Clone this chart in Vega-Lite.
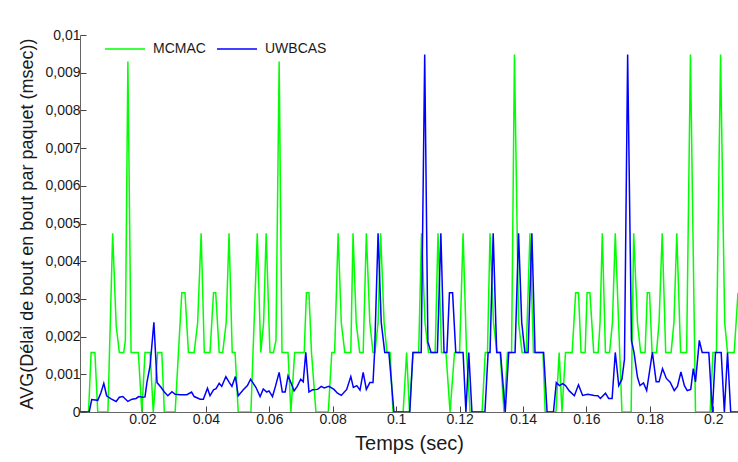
{
  "$schema": "https://vega.github.io/schema/vega-lite/v6.json",
  "autosize": {"type": "none"},
  "padding": {"left": 80, "top": 35, "right": 0, "bottom": 50},
  "width": 658,
  "height": 377,
  "background": "white",
  "config": {
    "view": {"stroke": null},
    "font": "Liberation Sans",
    "axis": {
      "grid": false,
      "domainColor": "#666666",
      "tickColor": "#444444",
      "labelColor": "#1a1a1a",
      "titleColor": "#1a1a1a",
      "labelFont": "Liberation Sans",
      "titleFont": "Liberation Sans",
      "labelFontSize": 14,
      "titleFontWeight": "normal",
      "tickSize": -6,
      "labelPadding": 6
    }
  },
  "data": {
    "values": [
      {"s":"MCMAC","t":0.0003,"v":0},{"s":"MCMAC","t":0.0030,"v":0},{"s":"MCMAC","t":0.0038,"v":0.00158},{"s":"MCMAC","t":0.0050,"v":0.00158},{"s":"MCMAC","t":0.0059,"v":0},{"s":"MCMAC","t":0.0091,"v":0},{"s":"MCMAC","t":0.0106,"v":0.00474},{"s":"MCMAC","t":0.0117,"v":0.0023},{"s":"MCMAC","t":0.0127,"v":0.00158},{"s":"MCMAC","t":0.0141,"v":0.00158},{"s":"MCMAC","t":0.0146,"v":0.0019},{"s":"MCMAC","t":0.0154,"v":0.0093},{"s":"MCMAC","t":0.0164,"v":0.00158},{"s":"MCMAC","t":0.0187,"v":0.00158},{"s":"MCMAC","t":0.0198,"v":0},{"s":"MCMAC","t":0.0208,"v":0.00158},{"s":"MCMAC","t":0.0224,"v":0.00158},{"s":"MCMAC","t":0.0234,"v":0},{"s":"MCMAC","t":0.0248,"v":0.00158},{"s":"MCMAC","t":0.0261,"v":0.00158},{"s":"MCMAC","t":0.0269,"v":0},{"s":"MCMAC","t":0.0303,"v":0},{"s":"MCMAC","t":0.0324,"v":0.00316},{"s":"MCMAC","t":0.0334,"v":0.00316},{"s":"MCMAC","t":0.0345,"v":0.00158},{"s":"MCMAC","t":0.0363,"v":0.00158},{"s":"MCMAC","t":0.0374,"v":0.00237},{"s":"MCMAC","t":0.0385,"v":0.00474},{"s":"MCMAC","t":0.0395,"v":0.00158},{"s":"MCMAC","t":0.0413,"v":0.00158},{"s":"MCMAC","t":0.0424,"v":0.00316},{"s":"MCMAC","t":0.0431,"v":0.00316},{"s":"MCMAC","t":0.0442,"v":0.00158},{"s":"MCMAC","t":0.0453,"v":0.00158},{"s":"MCMAC","t":0.0464,"v":0.00237},{"s":"MCMAC","t":0.0473,"v":0.00474},{"s":"MCMAC","t":0.0483,"v":0.00158},{"s":"MCMAC","t":0.0492,"v":0.00158},{"s":"MCMAC","t":0.0502,"v":0},{"s":"MCMAC","t":0.0542,"v":0},{"s":"MCMAC","t":0.0562,"v":0.00474},{"s":"MCMAC","t":0.0573,"v":0.00158},{"s":"MCMAC","t":0.0582,"v":0.00237},{"s":"MCMAC","t":0.0590,"v":0.00474},{"s":"MCMAC","t":0.0602,"v":0.00158},{"s":"MCMAC","t":0.0613,"v":0.00158},{"s":"MCMAC","t":0.0621,"v":0.0019},{"s":"MCMAC","t":0.0631,"v":0.0093},{"s":"MCMAC","t":0.0640,"v":0.00158},{"s":"MCMAC","t":0.0659,"v":0.00158},{"s":"MCMAC","t":0.0668,"v":0},{"s":"MCMAC","t":0.0680,"v":0.00158},{"s":"MCMAC","t":0.0710,"v":0.00158},{"s":"MCMAC","t":0.0717,"v":0.00316},{"s":"MCMAC","t":0.0725,"v":0.00316},{"s":"MCMAC","t":0.0733,"v":0.00158},{"s":"MCMAC","t":0.0747,"v":0},{"s":"MCMAC","t":0.0786,"v":0},{"s":"MCMAC","t":0.0797,"v":0.00158},{"s":"MCMAC","t":0.0806,"v":0.00158},{"s":"MCMAC","t":0.0817,"v":0.00474},{"s":"MCMAC","t":0.0827,"v":0.00237},{"s":"MCMAC","t":0.0838,"v":0.00158},{"s":"MCMAC","t":0.0857,"v":0.00158},{"s":"MCMAC","t":0.0864,"v":0.00474},{"s":"MCMAC","t":0.0874,"v":0.00237},{"s":"MCMAC","t":0.0885,"v":0.00158},{"s":"MCMAC","t":0.0896,"v":0.00158},{"s":"MCMAC","t":0.0906,"v":0.00474},{"s":"MCMAC","t":0.0917,"v":0.00237},{"s":"MCMAC","t":0.0927,"v":0.00158},{"s":"MCMAC","t":0.0933,"v":0.00158},{"s":"MCMAC","t":0.0943,"v":0.00237},{"s":"MCMAC","t":0.0951,"v":0.00474},{"s":"MCMAC","t":0.0962,"v":0.00237},{"s":"MCMAC","t":0.0971,"v":0.00158},{"s":"MCMAC","t":0.0981,"v":0.00158},{"s":"MCMAC","t":0.0990,"v":0},{"s":"MCMAC","t":0.1022,"v":0},{"s":"MCMAC","t":0.1033,"v":0.00158},{"s":"MCMAC","t":0.1042,"v":0},{"s":"MCMAC","t":0.1053,"v":0.00158},{"s":"MCMAC","t":0.1071,"v":0.00158},{"s":"MCMAC","t":0.1080,"v":0.00474},{"s":"MCMAC","t":0.1091,"v":0.00237},{"s":"MCMAC","t":0.1102,"v":0.00158},{"s":"MCMAC","t":0.1123,"v":0.00158},{"s":"MCMAC","t":0.1132,"v":0.00474},{"s":"MCMAC","t":0.1143,"v":0.00158},{"s":"MCMAC","t":0.1157,"v":0.00158},{"s":"MCMAC","t":0.1170,"v":0},{"s":"MCMAC","t":0.1184,"v":0.00158},{"s":"MCMAC","t":0.1200,"v":0.00158},{"s":"MCMAC","t":0.1211,"v":0.00474},{"s":"MCMAC","t":0.1222,"v":0.00158},{"s":"MCMAC","t":0.1233,"v":0},{"s":"MCMAC","t":0.1271,"v":0},{"s":"MCMAC","t":0.1281,"v":0.00158},{"s":"MCMAC","t":0.1288,"v":0.00158},{"s":"MCMAC","t":0.1296,"v":0.00474},{"s":"MCMAC","t":0.1307,"v":0.00237},{"s":"MCMAC","t":0.1318,"v":0.00158},{"s":"MCMAC","t":0.1328,"v":0.00158},{"s":"MCMAC","t":0.1340,"v":0},{"s":"MCMAC","t":0.1351,"v":0.00158},{"s":"MCMAC","t":0.1364,"v":0.00158},{"s":"MCMAC","t":0.1373,"v":0.00948},{"s":"MCMAC","t":0.1386,"v":0.00237},{"s":"MCMAC","t":0.1397,"v":0.00158},{"s":"MCMAC","t":0.1410,"v":0.00158},{"s":"MCMAC","t":0.1422,"v":0.00474},{"s":"MCMAC","t":0.1433,"v":0.00158},{"s":"MCMAC","t":0.1463,"v":0.00158},{"s":"MCMAC","t":0.1470,"v":0},{"s":"MCMAC","t":0.1504,"v":0},{"s":"MCMAC","t":0.1514,"v":0.00158},{"s":"MCMAC","t":0.1523,"v":0},{"s":"MCMAC","t":0.1534,"v":0.00158},{"s":"MCMAC","t":0.1555,"v":0.00158},{"s":"MCMAC","t":0.1566,"v":0.00316},{"s":"MCMAC","t":0.1575,"v":0.00316},{"s":"MCMAC","t":0.1583,"v":0.00158},{"s":"MCMAC","t":0.1596,"v":0.00158},{"s":"MCMAC","t":0.1602,"v":0.00316},{"s":"MCMAC","t":0.1611,"v":0.00316},{"s":"MCMAC","t":0.1623,"v":0.00158},{"s":"MCMAC","t":0.1637,"v":0.00158},{"s":"MCMAC","t":0.1643,"v":0.00237},{"s":"MCMAC","t":0.1650,"v":0.00474},{"s":"MCMAC","t":0.1660,"v":0.00158},{"s":"MCMAC","t":0.1673,"v":0.00158},{"s":"MCMAC","t":0.1682,"v":0.00237},{"s":"MCMAC","t":0.1691,"v":0.00474},{"s":"MCMAC","t":0.1712,"v":0},{"s":"MCMAC","t":0.1741,"v":0},{"s":"MCMAC","t":0.1749,"v":0.00474},{"s":"MCMAC","t":0.1761,"v":0.00237},{"s":"MCMAC","t":0.1771,"v":0.00158},{"s":"MCMAC","t":0.1785,"v":0.00158},{"s":"MCMAC","t":0.1792,"v":0.00316},{"s":"MCMAC","t":0.1799,"v":0.00316},{"s":"MCMAC","t":0.1807,"v":0.00158},{"s":"MCMAC","t":0.1821,"v":0.00158},{"s":"MCMAC","t":0.1829,"v":0.00237},{"s":"MCMAC","t":0.1839,"v":0.00474},{"s":"MCMAC","t":0.1850,"v":0.00158},{"s":"MCMAC","t":0.1867,"v":0.00158},{"s":"MCMAC","t":0.1876,"v":0.00237},{"s":"MCMAC","t":0.1885,"v":0.00474},{"s":"MCMAC","t":0.1897,"v":0.00158},{"s":"MCMAC","t":0.1916,"v":0.00158},{"s":"MCMAC","t":0.1928,"v":0.00948},{"s":"MCMAC","t":0.1944,"v":0},{"s":"MCMAC","t":0.1990,"v":0},{"s":"MCMAC","t":0.1999,"v":0.00158},{"s":"MCMAC","t":0.2010,"v":0.00158},{"s":"MCMAC","t":0.2023,"v":0.00948},{"s":"MCMAC","t":0.2036,"v":0.00237},{"s":"MCMAC","t":0.2045,"v":0.00158},{"s":"MCMAC","t":0.2066,"v":0.00158},{"s":"MCMAC","t":0.2078,"v":0.00316},
      {"s":"UWBCAS","t":0.0003,"v":0},{"s":"UWBCAS","t":0.0032,"v":0},{"s":"UWBCAS","t":0.0040,"v":0.00033},{"s":"UWBCAS","t":0.0059,"v":0.00031},{"s":"UWBCAS","t":0.0069,"v":0.00051},{"s":"UWBCAS","t":0.0078,"v":0.00076},{"s":"UWBCAS","t":0.0087,"v":0.00043},{"s":"UWBCAS","t":0.0101,"v":0.00035},{"s":"UWBCAS","t":0.0117,"v":0.00028},{"s":"UWBCAS","t":0.0127,"v":0.00039},{"s":"UWBCAS","t":0.0138,"v":0.00041},{"s":"UWBCAS","t":0.0154,"v":0.00028},{"s":"UWBCAS","t":0.0167,"v":0.00034},{"s":"UWBCAS","t":0.0180,"v":0.00036},{"s":"UWBCAS","t":0.0188,"v":0.00041},{"s":"UWBCAS","t":0.0201,"v":0.00039},{"s":"UWBCAS","t":0.0208,"v":0.0004},{"s":"UWBCAS","t":0.0214,"v":0.00078},{"s":"UWBCAS","t":0.0224,"v":0.00122},{"s":"UWBCAS","t":0.0236,"v":0.00238},{"s":"UWBCAS","t":0.0246,"v":0.00078},{"s":"UWBCAS","t":0.0259,"v":0.00065},{"s":"UWBCAS","t":0.0269,"v":0.00053},{"s":"UWBCAS","t":0.0280,"v":0.00043},{"s":"UWBCAS","t":0.0293,"v":0.00054},{"s":"UWBCAS","t":0.0303,"v":0.00047},{"s":"UWBCAS","t":0.0319,"v":0.00046},{"s":"UWBCAS","t":0.0340,"v":0.00046},{"s":"UWBCAS","t":0.0355,"v":0.00053},{"s":"UWBCAS","t":0.0363,"v":0.00041},{"s":"UWBCAS","t":0.0382,"v":0.00034},{"s":"UWBCAS","t":0.0392,"v":0.00034},{"s":"UWBCAS","t":0.0405,"v":0.00063},{"s":"UWBCAS","t":0.0413,"v":0.00043},{"s":"UWBCAS","t":0.0424,"v":0.00059},{"s":"UWBCAS","t":0.0432,"v":0.00062},{"s":"UWBCAS","t":0.0442,"v":0.00076},{"s":"UWBCAS","t":0.0450,"v":0.00068},{"s":"UWBCAS","t":0.0463,"v":0.00094},{"s":"UWBCAS","t":0.0474,"v":0.00078},{"s":"UWBCAS","t":0.0482,"v":0.00068},{"s":"UWBCAS","t":0.0493,"v":0.00094},{"s":"UWBCAS","t":0.0502,"v":0.00043},{"s":"UWBCAS","t":0.0518,"v":0.00059},{"s":"UWBCAS","t":0.0531,"v":0.0007},{"s":"UWBCAS","t":0.0541,"v":0.00087},{"s":"UWBCAS","t":0.0558,"v":0.00065},{"s":"UWBCAS","t":0.0571,"v":0.00041},{"s":"UWBCAS","t":0.0581,"v":0.00061},{"s":"UWBCAS","t":0.0592,"v":0.00053},{"s":"UWBCAS","t":0.0599,"v":0.00056},{"s":"UWBCAS","t":0.0610,"v":0.00041},{"s":"UWBCAS","t":0.0620,"v":0.0007},{"s":"UWBCAS","t":0.0631,"v":0.00105},{"s":"UWBCAS","t":0.0641,"v":0.00053},{"s":"UWBCAS","t":0.0650,"v":0.00053},{"s":"UWBCAS","t":0.0659,"v":0.00096},{"s":"UWBCAS","t":0.0668,"v":0.00078},{"s":"UWBCAS","t":0.0678,"v":0.00056},{"s":"UWBCAS","t":0.0688,"v":0.00068},{"s":"UWBCAS","t":0.0699,"v":0.00087},{"s":"UWBCAS","t":0.0707,"v":0.0008},{"s":"UWBCAS","t":0.0715,"v":0.00158},{"s":"UWBCAS","t":0.0725,"v":0.00053},{"s":"UWBCAS","t":0.0736,"v":0.00059},{"s":"UWBCAS","t":0.0752,"v":0.0006},{"s":"UWBCAS","t":0.0764,"v":0.00068},{"s":"UWBCAS","t":0.0773,"v":0.00064},{"s":"UWBCAS","t":0.0788,"v":0.00068},{"s":"UWBCAS","t":0.0804,"v":0.0006},{"s":"UWBCAS","t":0.0815,"v":0.0005},{"s":"UWBCAS","t":0.0827,"v":0.00044},{"s":"UWBCAS","t":0.0844,"v":0.0006},{"s":"UWBCAS","t":0.0857,"v":0.00094},{"s":"UWBCAS","t":0.0865,"v":0.00065},{"s":"UWBCAS","t":0.0876,"v":0.0007},{"s":"UWBCAS","t":0.0886,"v":0.00058},{"s":"UWBCAS","t":0.0896,"v":0.00105},{"s":"UWBCAS","t":0.0906,"v":0.0006},{"s":"UWBCAS","t":0.0917,"v":0.00078},{"s":"UWBCAS","t":0.0927,"v":0.00078},{"s":"UWBCAS","t":0.0932,"v":0.00158},{"s":"UWBCAS","t":0.0943,"v":0.00474},{"s":"UWBCAS","t":0.0953,"v":0.00237},{"s":"UWBCAS","t":0.0964,"v":0.00158},{"s":"UWBCAS","t":0.0977,"v":0.00158},{"s":"UWBCAS","t":0.0993,"v":0},{"s":"UWBCAS","t":0.1043,"v":0},{"s":"UWBCAS","t":0.1053,"v":0.00158},{"s":"UWBCAS","t":0.1079,"v":0.00158},{"s":"UWBCAS","t":0.1090,"v":0.00948},{"s":"UWBCAS","t":0.1100,"v":0.00186},{"s":"UWBCAS","t":0.1110,"v":0.00158},{"s":"UWBCAS","t":0.1130,"v":0.00158},{"s":"UWBCAS","t":0.1141,"v":0.00474},{"s":"UWBCAS","t":0.1151,"v":0.00158},{"s":"UWBCAS","t":0.1160,"v":0.00158},{"s":"UWBCAS","t":0.1168,"v":0.00316},{"s":"UWBCAS","t":0.1178,"v":0.00316},{"s":"UWBCAS","t":0.1188,"v":0.00158},{"s":"UWBCAS","t":0.1211,"v":0.00158},{"s":"UWBCAS","t":0.1220,"v":0},{"s":"UWBCAS","t":0.1229,"v":0.00158},{"s":"UWBCAS","t":0.1239,"v":0},{"s":"UWBCAS","t":0.1280,"v":0},{"s":"UWBCAS","t":0.1290,"v":0.00158},{"s":"UWBCAS","t":0.1296,"v":0.00158},{"s":"UWBCAS","t":0.1306,"v":0.00474},{"s":"UWBCAS","t":0.1317,"v":0.00158},{"s":"UWBCAS","t":0.1329,"v":0.00158},{"s":"UWBCAS","t":0.1344,"v":0},{"s":"UWBCAS","t":0.1355,"v":0.00158},{"s":"UWBCAS","t":0.1375,"v":0.00158},{"s":"UWBCAS","t":0.1386,"v":0.00474},{"s":"UWBCAS","t":0.1396,"v":0.00237},{"s":"UWBCAS","t":0.1406,"v":0.00158},{"s":"UWBCAS","t":0.1416,"v":0.00158},{"s":"UWBCAS","t":0.1428,"v":0.00474},{"s":"UWBCAS","t":0.1438,"v":0.00158},{"s":"UWBCAS","t":0.1465,"v":0.00158},{"s":"UWBCAS","t":0.1476,"v":0},{"s":"UWBCAS","t":0.1496,"v":0},{"s":"UWBCAS","t":0.1505,"v":0.00078},{"s":"UWBCAS","t":0.1515,"v":0.0007},{"s":"UWBCAS","t":0.1525,"v":0.00075},{"s":"UWBCAS","t":0.1534,"v":0.0007},{"s":"UWBCAS","t":0.1546,"v":0.00056},{"s":"UWBCAS","t":0.1562,"v":0.00043},{"s":"UWBCAS","t":0.1575,"v":0.00072},{"s":"UWBCAS","t":0.1588,"v":0.00044},{"s":"UWBCAS","t":0.1604,"v":0.00047},{"s":"UWBCAS","t":0.1625,"v":0.00044},{"s":"UWBCAS","t":0.1636,"v":0.00043},{"s":"UWBCAS","t":0.1644,"v":0.00036},{"s":"UWBCAS","t":0.1660,"v":0.0005},{"s":"UWBCAS","t":0.1670,"v":0.00036},{"s":"UWBCAS","t":0.1681,"v":0.00036},{"s":"UWBCAS","t":0.1691,"v":0.00158},{"s":"UWBCAS","t":0.1702,"v":0.0007},{"s":"UWBCAS","t":0.1712,"v":0.00087},{"s":"UWBCAS","t":0.1720,"v":0.0014},{"s":"UWBCAS","t":0.1730,"v":0.00948},{"s":"UWBCAS","t":0.1742,"v":0.0019},{"s":"UWBCAS","t":0.1750,"v":0.00158},{"s":"UWBCAS","t":0.1761,"v":0.00092},{"s":"UWBCAS","t":0.1769,"v":0.0007},{"s":"UWBCAS","t":0.1780,"v":0.00077},{"s":"UWBCAS","t":0.1790,"v":0.00057},{"s":"UWBCAS","t":0.1808,"v":0.00158},{"s":"UWBCAS","t":0.1820,"v":0.0008},{"s":"UWBCAS","t":0.1829,"v":0.0008},{"s":"UWBCAS","t":0.1840,"v":0.00115},{"s":"UWBCAS","t":0.1852,"v":0.00089},{"s":"UWBCAS","t":0.1864,"v":0.00079},{"s":"UWBCAS","t":0.1877,"v":0.00057},{"s":"UWBCAS","t":0.1887,"v":0.00068},{"s":"UWBCAS","t":0.1898,"v":0.00106},{"s":"UWBCAS","t":0.1909,"v":0.0007},{"s":"UWBCAS","t":0.1918,"v":0.00057},{"s":"UWBCAS","t":0.1929,"v":0.0006},{"s":"UWBCAS","t":0.1937,"v":0.00115},{"s":"UWBCAS","t":0.1944,"v":0.0008},{"s":"UWBCAS","t":0.1956,"v":0.0019},{"s":"UWBCAS","t":0.1965,"v":0.00158},{"s":"UWBCAS","t":0.1986,"v":0.00158},{"s":"UWBCAS","t":0.1997,"v":0},{"s":"UWBCAS","t":0.2007,"v":0.00158},{"s":"UWBCAS","t":0.2025,"v":0.00158},{"s":"UWBCAS","t":0.2035,"v":0},{"s":"UWBCAS","t":0.2045,"v":0.00158},{"s":"UWBCAS","t":0.2055,"v":0},{"s":"UWBCAS","t":0.2078,"v":0}
    ]
  },
  "mark": {"type": "line", "strokeWidth": 1.5, "clip": true},
  "encoding": {
    "x": {
      "field": "t", "type": "quantitative",
      "scale": {"domain": [0.0003, 0.2078], "nice": false, "zero": false},
      "axis": {
        "title": "Temps (sec)",
        "titleFontSize": 20,
        "values": [0.02, 0.04, 0.06, 0.08, 0.1, 0.12, 0.14, 0.16, 0.18, 0.2],
        "format": ".2~f",
        "titlePadding": 7
      }
    },
    "y": {
      "field": "v", "type": "quantitative",
      "scale": {"domain": [0, 0.01], "nice": false},
      "axis": {
        "title": "AVG(Délai de bout en bout par paquet (msec))",
        "titleFontSize": 18,
        "values": [0, 0.001, 0.002, 0.003, 0.004, 0.005, 0.006, 0.007, 0.008, 0.009, 0.01],
        "labelExpr": "replace(format(datum.value, '.3~f'), '.', ',')",
        "titlePadding": 8
      }
    },
    "color": {
      "field": "s", "type": "nominal",
      "scale": {"domain": ["MCMAC", "UWBCAS"], "range": ["#00ff00", "#0000ff"]},
      "legend": {
        "title": null,
        "orient": "none",
        "legendX": 24,
        "legendY": -7,
        "direction": "horizontal",
        "symbolType": "stroke",
        "symbolSize": 1600,
        "symbolStrokeWidth": 1.5,
        "labelFontSize": 14,
        "labelFont": "Liberation Sans",
        "labelColor": "#1a1a1a",
        "labelOffset": 7,
        "columnPadding": 8
      }
    }
  }
}
